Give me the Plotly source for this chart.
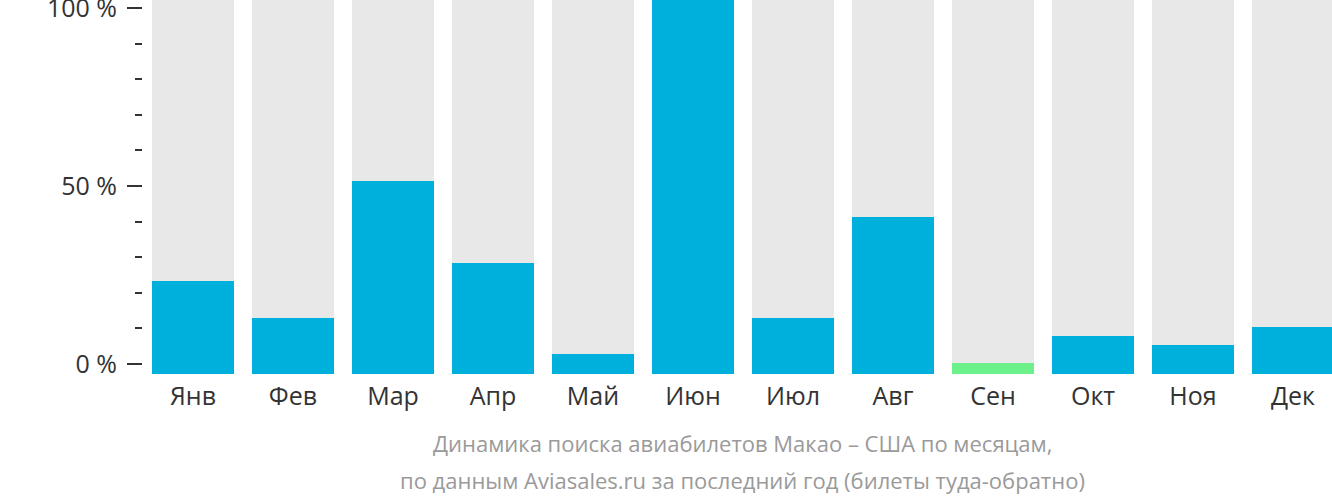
import plotly.graph_objects as go

months = ["Янв", "Фев", "Мар", "Апр", "Май", "Июн", "Июл", "Авг", "Сен", "Окт", "Ноя", "Дек"]
# share of the tallest month (bar height relative to full column)
values = [24.8, 14.9, 51.6, 29.6, 5.3, 100, 14.9, 41.9, 2.9, 10.1, 7.7, 12.6]
full = [100] * 12
low_month = "Сен"
tick_vals = [0, 50, 100]
tick_text = ["0 %", "50 %", "100 %"]
caption = ["Динамика поиска авиабилетов Макао – США по месяцам,",
           "по данным Aviasales.ru за последний год (билеты туда-обратно)"]

BLUE = "#00b0dc"
GREEN = "#6cf08a"
GRAY = "#e8e8e8"

W, H = 1332, 502
L, R, T, B = 143, 0, 0, 128
x = list(range(len(months)))
colors = [GREEN if m == low_month else BLUE for m in months]

fig = go.Figure()
fig.add_trace(go.Bar(x=x, y=full, marker=dict(color=GRAY, line=dict(width=0)),
                     width=0.82, hoverinfo="skip", showlegend=False))
fig.add_trace(go.Bar(x=x, y=values, marker=dict(color=colors, line=dict(width=0)),
                     width=0.82, showlegend=False))
# invisible trace to carry percentage axis
fig.add_trace(go.Scatter(x=[0], y=[0], yaxis="y2", mode="markers",
                         marker=dict(opacity=0), hoverinfo="skip", showlegend=False))

plot_h = H - T - B
zero_px = 364 - T   # pixel of 0 %
px_per_unit = 3.56
y2_low = -(plot_h - zero_px) / px_per_unit
y2_high = zero_px / px_per_unit

fig.update_layout(
    width=W, height=H,
    margin=dict(l=L, r=R, t=T, b=B, pad=0, autoexpand=False),
    paper_bgcolor="white", plot_bgcolor="white",
    barmode="overlay", bargap=0,
    font=dict(family="Open Sans", color="#333333", size=25),
    xaxis=dict(range=[-0.5, 11 + (1332 - 1293) / 100], tickvals=x, ticktext=months,
               showgrid=False, zeroline=False, showline=False, ticks="",
               ticklabelstandoff=5, automargin=False,
               tickfont=dict(size=25, color="#333333"), fixedrange=True),
    yaxis=dict(range=[0, 100], showticklabels=False, showgrid=False, zeroline=False,
               showline=False, ticks="", fixedrange=True, automargin=False),
    yaxis2=dict(overlaying="y", side="left", range=[y2_low, y2_high],
                tickvals=tick_vals, ticktext=tick_text, ticks="outside", ticklen=15,
                tickwidth=2, tickcolor="#333333", showgrid=False, zeroline=False,
                showline=False, tickfont=dict(size=25, color="#333333"),
                ticklabelstandoff=5, ticklabeloverflow="allow", automargin=False,
                minor=dict(dtick=10, tick0=0, ticks="outside", ticklen=7, tickwidth=2,
                           tickcolor="#333333", showgrid=False),
                fixedrange=True),
)

cx = (742 - L) / (W - L - R)
for i, line in enumerate(caption):
    fig.add_annotation(text=line, xref="paper", yref="paper", x=cx,
                       y=-(443 + 37 * i - (H - B)) / plot_h, xanchor="center", yanchor="middle",
                       showarrow=False, font=dict(size=22, color="#9a9a9a", family="Open Sans"))

fig.write_html("out.html")
